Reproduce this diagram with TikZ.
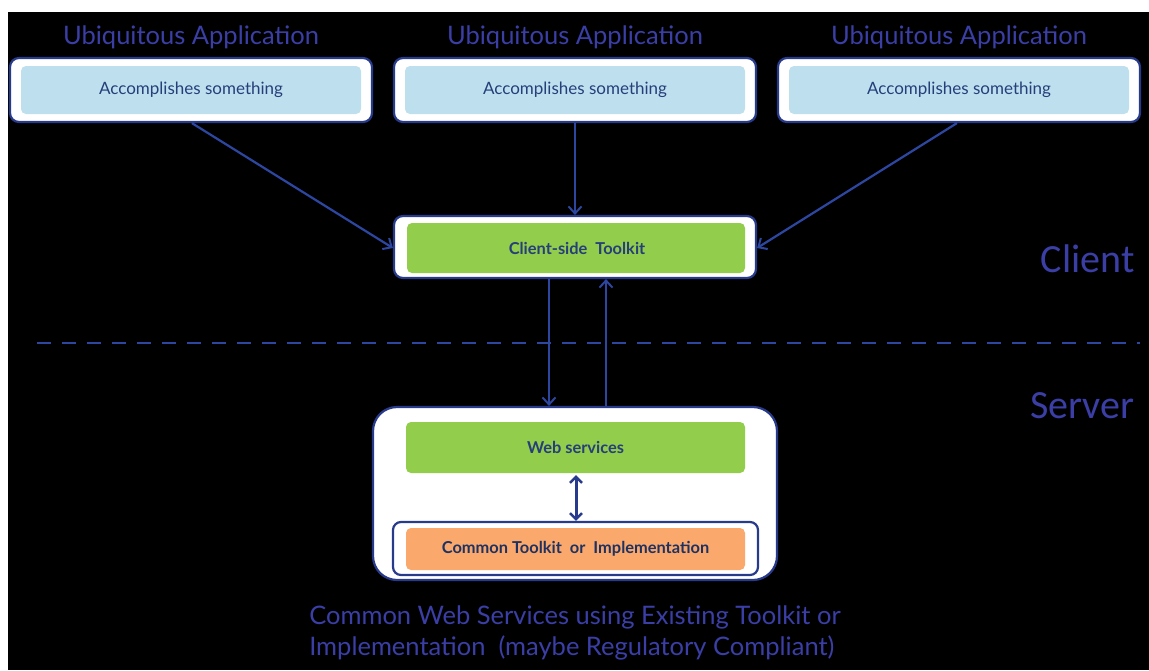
\documentclass[tikz,border=0pt]{standalone}
\usepackage{fontspec}
\setmainfont{Lato}
\newfontfamily\calib{Carlito}
\usetikzlibrary{arrows.meta}
\definecolor{edgeblue}{RGB}{40,58,140}
\definecolor{arrowblue}{RGB}{45,70,160}
\definecolor{titleblue}{RGB}{58,62,165}
\definecolor{labelblue}{RGB}{38,62,122}
\definecolor{paleblue}{RGB}{190,224,238}
\definecolor{leafgreen}{RGB}{146,205,76}
\definecolor{peach}{RGB}{250,168,108}
\begin{document}
\begin{tikzpicture}[x=1pt,y=-1pt,
  shell/.style={draw=edgeblue,line width=2.2pt,fill=white,rounded corners=9pt},
  inner/.style={rounded corners=5pt,inner sep=0pt},
  title/.style={text=titleblue,font=\fontsize{25.5}{30}\selectfont},
  boxlabel/.style={text=labelblue,font=\fontsize{17}{20}\selectfont},
  boldlabel/.style={text=labelblue,font=\bfseries\fontsize{16.4}{19}\selectfont},
  side/.style={text=titleblue,font=\calib\fontsize{40}{46}\selectfont,anchor=east},
  link/.style={draw=arrowblue,line width=2.2pt,-{Straight Barb[length=7pt,width=13pt,line width=2pt]}},
  both/.style={draw=edgeblue,line width=3pt,{Straight Barb[length=6pt,width=12pt,line width=2.5pt]}-{Straight Barb[length=6pt,width=12pt,line width=2.5pt]}}]
\useasboundingbox (0,0) rectangle (1149,670);
\fill[white] (0,0) rectangle (1149,670);
\fill[black] (8,12) rectangle (1149,670);

% client-side applications
\foreach \i/\cx in {1/191,2/575,3/959}{
  \node[title] (t\i) at (\cx,37) {Ubiquitous Application};
  \node[shell,minimum width=362pt,minimum height=64pt] (app\i) at (\cx,90) {};
  \node[inner,fill=paleblue,minimum width=340pt,minimum height=48pt] (in\i) at (\cx,90) {};
  \node[boxlabel] (lab\i) at (\cx,90) {Accomplishes something};
}

% client toolkit
\node[shell,minimum width=362pt,minimum height=62pt] (client) at (575,247) {};
\node[inner,fill=leafgreen,minimum width=338pt,minimum height=50pt] (clientin) at (576,248) {};
\node[boldlabel] (clientlab) at (577,248) {Client-side\ \ Toolkit};

% server side
\node[shell,rounded corners=24pt,minimum width=404pt,minimum height=173pt] (server) at (575,493.5) {};
\node[inner,fill=leafgreen,minimum width=339pt,minimum height=51pt] (web) at (575.5,447.5) {};
\node[boldlabel] (weblab) at (575.5,447.5) {Web services};
\node[draw=edgeblue,line width=2.2pt,rounded corners=8pt,minimum width=365pt,minimum height=53pt] (commonbox) at (575.5,548.5) {};
\node[inner,fill=peach,minimum width=339pt,minimum height=42pt] (common) at (575.5,549) {};
\node[text=labelblue!80!black,font=\bfseries\fontsize{16.4}{19}\selectfont] (commonlab) at (575.5,549) {Common Toolkit\ \ or\ \ Implementation};

% client / server divider
\coordinate (dl) at (37,343);
\coordinate (dr) at (1140,343);
\draw[arrowblue,line width=2.2pt,dash pattern=on 14pt off 11pt] (dl) -- (dr);
\node[side] (clientside) at (1138,259) {Client};
\node[side] (serverside) at (1138,406) {Server};

% connectors
\draw[link] (app1.south west) ++(183,0) coordinate (s1) -- (client.west |- clientin);
\draw[link] (app2.south) -- (client.north);
\draw[link] (app3.south west) ++(180,0) coordinate (s3) -- (client.east |- clientin);
\draw[link] (client.south -| 549,0) -- (server.north -| 549,0);
\draw[link] (server.north -| 606,0) -- (client.south -| 606,0);
\draw[both] (web.south -| 576,0) ++(0,2) -- (commonbox.north -| 576,0);

% caption
\node[text=titleblue,font=\fontsize{25.5}{31}\selectfont,align=left] (caption) at (575,633)
  {Common Web Services using Existing Toolkit or\\Implementation\ \ (maybe Regulatory Compliant)};
\end{tikzpicture}
\end{document}
